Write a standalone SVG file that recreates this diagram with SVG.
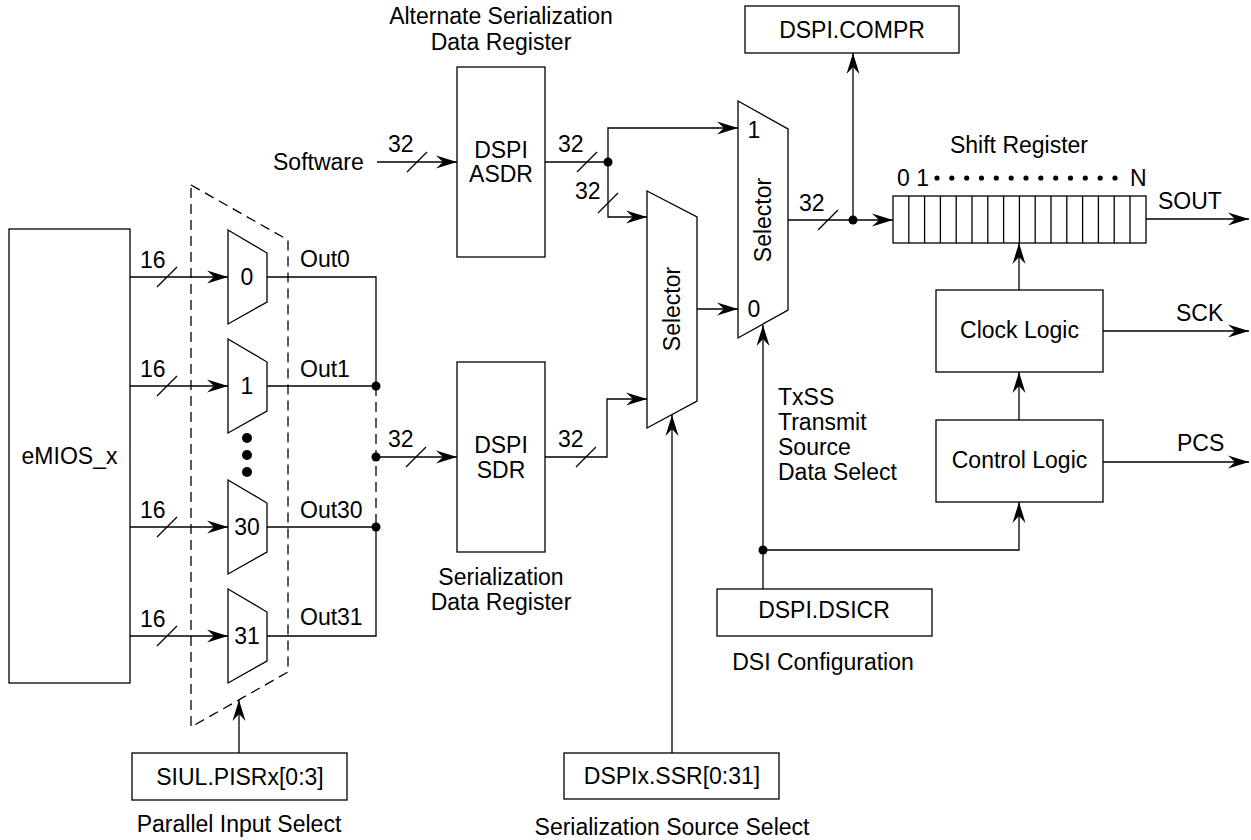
<svg xmlns="http://www.w3.org/2000/svg" width="1251" height="840" viewBox="0 0 1251 840">
  <style>
    .box { fill: #fff; stroke: #000; stroke-width: 1.3; }
    .mux { fill: #fff; stroke: #000; stroke-width: 1.3; }
    .wire { fill: none; stroke: #000; stroke-width: 1.3; }
    .arr { fill: none; stroke: #000; stroke-width: 1.3; marker-end: url(#arrow); }
    .dash { fill: none; stroke: #000; stroke-width: 1.3; stroke-dasharray: 10 6; }
    .dot { fill: #000; }
    text { font-family: "Liberation Sans", Arial, Helvetica, sans-serif; font-size: 23px; fill: #000; }
    .c { text-anchor: middle; }
  </style>
  <defs>
    <marker id="arrow" viewBox="-22 -7 23 14" refX="0" refY="0" markerWidth="23" markerHeight="14" orient="auto" markerUnits="userSpaceOnUse">
      <path d="M0,0 L-21,-6.5 L-14,0 L-21,6.5 Z" fill="#000"/>
    </marker>
  </defs>

  <rect width="1251" height="840" fill="#fff"/>

  <!-- parallel input select group outline -->
  <polygon class="dash" points="191,185 288,240 288,672 191,727"/>

  <!-- connectors -->
  <g id="connectors">
    <!-- eMIOS channels into input muxes -->
    <line class="arr" x1="130" y1="277" x2="228" y2="277"/>
    <line class="arr" x1="130" y1="386" x2="228" y2="386"/>
    <line class="arr" x1="130" y1="527" x2="228" y2="527"/>
    <line class="arr" x1="130" y1="636" x2="228" y2="636"/>
    <line class="wire" x1="157" y1="287" x2="177" y2="267"/>
    <line class="wire" x1="157" y1="396" x2="177" y2="376"/>
    <line class="wire" x1="157" y1="537" x2="177" y2="517"/>
    <line class="wire" x1="157" y1="646" x2="177" y2="626"/>

    <!-- mux outputs onto the bus -->
    <path class="wire" d="M267,277 H376 V386"/>
    <line class="wire" x1="267" y1="386" x2="376" y2="386"/>
    <line class="dash" x1="376" y1="386" x2="376" y2="527"/>
    <line class="wire" x1="267" y1="527" x2="376" y2="527"/>
    <path class="wire" d="M267,636 H376 V527"/>
    <circle class="dot" cx="376" cy="386" r="4.5"/>
    <circle class="dot" cx="376" cy="457" r="4.5"/>
    <circle class="dot" cx="376" cy="527" r="4.5"/>

    <!-- bus into SDR -->
    <line class="arr" x1="376" y1="457" x2="457" y2="457"/>
    <line class="wire" x1="406" y1="467" x2="426" y2="447"/>

    <!-- software into ASDR -->
    <line class="arr" x1="377" y1="162" x2="457" y2="162"/>
    <line class="wire" x1="407" y1="172" x2="427" y2="152"/>

    <!-- ASDR output split -->
    <line class="wire" x1="545" y1="162" x2="608" y2="162"/>
    <line class="wire" x1="577" y1="172" x2="597" y2="152"/>
    <circle class="dot" cx="608" cy="162" r="4.5"/>
    <path class="arr" d="M608,162 V128 H738"/>
    <path class="arr" d="M608,162 V217 H647"/>
    <line class="wire" x1="598" y1="213" x2="618" y2="193"/>

    <!-- SDR output into lower selector -->
    <path class="arr" d="M545,457 H607 V399 H647"/>
    <line class="wire" x1="576" y1="467" x2="596" y2="447"/>

    <!-- lower selector into upper selector input 0 -->
    <line class="arr" x1="697" y1="309" x2="738" y2="309"/>

    <!-- upper selector output -->
    <line class="arr" x1="788" y1="220" x2="893" y2="220"/>
    <line class="wire" x1="818" y1="230" x2="838" y2="210"/>
    <circle class="dot" cx="853" cy="220" r="4.5"/>
    <line class="arr" x1="853" y1="220" x2="853" y2="53"/>

    <!-- shift register outputs and clocking -->
    <line class="arr" x1="1146" y1="219" x2="1249" y2="219"/>
    <line class="arr" x1="1019" y1="290" x2="1019" y2="243"/>
    <line class="arr" x1="1019" y1="420" x2="1019" y2="372"/>
    <line class="arr" x1="1103" y1="331" x2="1249" y2="331"/>
    <line class="arr" x1="1103" y1="462" x2="1249" y2="462"/>

    <!-- DSI configuration fan-out -->
    <line class="arr" x1="763" y1="589" x2="763" y2="325"/>
    <circle class="dot" cx="763" cy="550" r="4.5"/>
    <path class="arr" d="M763,550 H1019 V502"/>

    <!-- source select -->
    <line class="arr" x1="672" y1="753" x2="672" y2="415"/>
    <line class="arr" x1="239" y1="753" x2="239" y2="700"/>
  </g>

  <!-- bus width and signal labels -->
  <g id="labels">
    <text x="140" y="268">16</text>
    <text x="140" y="377">16</text>
    <text x="140" y="518">16</text>
    <text x="140" y="627">16</text>
    <text x="300" y="267">Out0</text>
    <text x="300" y="377">Out1</text>
    <text x="300" y="518">Out30</text>
    <text x="300" y="625">Out31</text>
    <text x="388" y="152">32</text>
    <text x="558" y="152">32</text>
    <text x="575" y="199">32</text>
    <text x="388" y="447">32</text>
    <text x="558" y="447">32</text>
    <text x="799" y="211">32</text>
    <text x="273" y="170">Software</text>
    <text x="1158" y="209">SOUT</text>
    <text x="1176" y="321">SCK</text>
    <text x="1177" y="451">PCS</text>
    <text x="778" y="405">TxSS</text>
    <text x="778" y="430">Transmit</text>
    <text x="778" y="455">Source</text>
    <text x="778" y="480">Data Select</text>
  </g>

  <g id="emios">
    <rect class="box" x="9" y="229" width="121" height="454"/>
    <text class="c" x="69.5" y="464">eMIOS_x</text>
  </g>

  <g id="mux0">
    <polygon class="mux" points="228,230 267,253 267,302 228,324"/>
    <text class="c" x="247" y="285">0</text>
  </g>
  <g id="mux1">
    <polygon class="mux" points="228,339 267,362 267,411 228,433"/>
    <text class="c" x="247" y="394">1</text>
  </g>
  <g id="mux-ellipsis">
    <circle class="dot" cx="247" cy="438" r="5"/>
    <circle class="dot" cx="247" cy="455" r="5"/>
    <circle class="dot" cx="247" cy="472" r="5"/>
  </g>
  <g id="mux30">
    <polygon class="mux" points="228,480 267,503 267,552 228,574"/>
    <text class="c" x="247" y="535">30</text>
  </g>
  <g id="mux31">
    <polygon class="mux" points="228,589 267,612 267,661 228,683"/>
    <text class="c" x="247" y="644">31</text>
  </g>

  <g id="siul-pisr">
    <rect class="box" x="132" y="753" width="215" height="47"/>
    <text class="c" x="240" y="785">SIUL.PISRx[0:3]</text>
    <text class="c" x="239" y="832">Parallel Input Select</text>
  </g>

  <g id="asdr">
    <text class="c" x="501" y="24">Alternate Serialization</text>
    <text class="c" x="501" y="50">Data Register</text>
    <rect class="box" x="457" y="67" width="88" height="190"/>
    <text class="c" x="501" y="158">DSPI</text>
    <text class="c" x="501" y="182">ASDR</text>
  </g>

  <g id="sdr">
    <rect class="box" x="457" y="362" width="88" height="190"/>
    <text class="c" x="501" y="453">DSPI</text>
    <text class="c" x="501" y="478">SDR</text>
    <text class="c" x="501" y="585">Serialization</text>
    <text class="c" x="501" y="610">Data Register</text>
  </g>

  <g id="source-selector">
    <polygon class="mux" points="647,191 697,217 697,401 647,428"/>
    <text class="c" transform="translate(672,309) rotate(-90)" x="0" y="8">Selector</text>
  </g>

  <g id="tx-selector">
    <polygon class="mux" points="738,101 788,129 788,310 738,338"/>
    <text class="c" transform="translate(763,220) rotate(-90)" x="0" y="8">Selector</text>
    <text class="c" x="754" y="138">1</text>
    <text class="c" x="754" y="317">0</text>
  </g>

  <g id="compr">
    <rect class="box" x="745" y="6" width="214" height="47"/>
    <text class="c" x="852" y="38">DSPI.COMPR</text>
  </g>

  <g id="shift-register">
    <text class="c" x="1019" y="153">Shift Register</text>
    <text x="897" y="186">0 1</text>
    <text x="1130" y="186">N</text>
    <g class="dot">
      <circle cx="937" cy="178" r="2.6"/>
      <circle cx="951.8" cy="178" r="2.6"/>
      <circle cx="966.7" cy="178" r="2.6"/>
      <circle cx="981.5" cy="178" r="2.6"/>
      <circle cx="996.3" cy="178" r="2.6"/>
      <circle cx="1011.2" cy="178" r="2.6"/>
      <circle cx="1026" cy="178" r="2.6"/>
      <circle cx="1040.8" cy="178" r="2.6"/>
      <circle cx="1055.7" cy="178" r="2.6"/>
      <circle cx="1070.5" cy="178" r="2.6"/>
      <circle cx="1085.3" cy="178" r="2.6"/>
      <circle cx="1100.2" cy="178" r="2.6"/>
      <circle cx="1115" cy="178" r="2.6"/>
    </g>
    <rect class="box" x="893" y="196" width="253" height="47"/>
    <path class="wire" d="M908.8,196 V243 M924.6,196 V243 M940.4,196 V243 M956.2,196 V243 M972,196 V243 M987.8,196 V243 M1003.6,196 V243 M1019.4,196 V243 M1035.2,196 V243 M1051,196 V243 M1066.8,196 V243 M1082.6,196 V243 M1098.4,196 V243 M1114.2,196 V243 M1130,196 V243"/>
  </g>

  <g id="clock-logic">
    <rect class="box" x="936" y="290" width="167" height="82"/>
    <text class="c" x="1019.5" y="338">Clock Logic</text>
  </g>

  <g id="control-logic">
    <rect class="box" x="936" y="420" width="167" height="82"/>
    <text class="c" x="1019.5" y="468">Control Logic</text>
  </g>

  <g id="dsicr">
    <rect class="box" x="717" y="589" width="215" height="47"/>
    <text class="c" x="824" y="618">DSPI.DSICR</text>
    <text class="c" x="823" y="670">DSI Configuration</text>
  </g>

  <g id="ssr">
    <rect class="box" x="564" y="753" width="215" height="46"/>
    <text class="c" x="672" y="784">DSPIx.SSR[0:31]</text>
    <text class="c" x="672" y="835">Serialization Source Select</text>
  </g>
</svg>
